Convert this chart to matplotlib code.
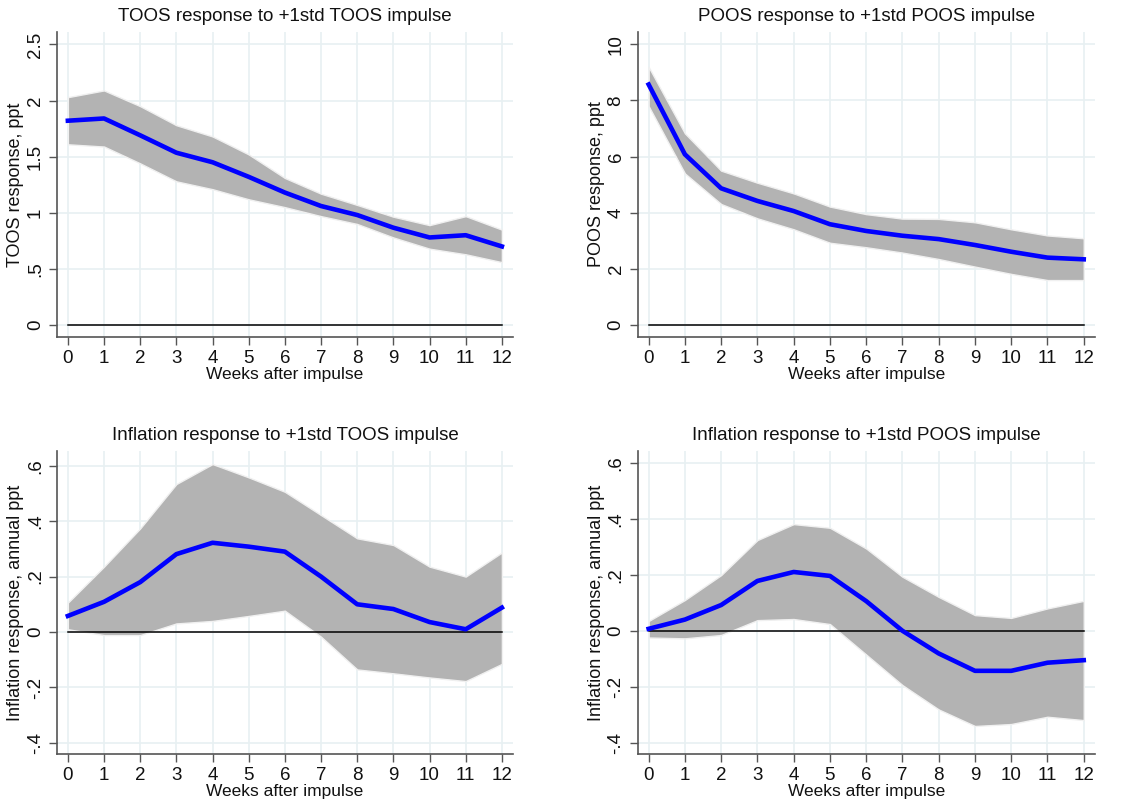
import matplotlib.pyplot as plt
import numpy as np

plt.rcParams['font.family'] = ['Liberation Sans', 'DejaVu Sans']

weeks = list(range(13))

# TOOS -> TOOS
toos_irf = [1.82, 1.84, 1.69, 1.535, 1.45, 1.32, 1.18, 1.06, 0.98, 0.867, 0.78, 0.80, 0.70]
toos_hi = [2.03, 2.09, 1.95, 1.78, 1.68, 1.52, 1.31, 1.17, 1.07, 0.965, 0.89, 0.97, 0.85]
toos_lo = [1.61, 1.59, 1.44, 1.28, 1.21, 1.12, 1.05, 0.97, 0.90, 0.78, 0.68, 0.63, 0.56]

# POOS -> POOS
poos_irf = [8.57, 6.08, 4.87, 4.42, 4.06, 3.59, 3.35, 3.18, 3.06, 2.85, 2.61, 2.40, 2.34]
poos_hi = [9.2, 6.83, 5.5, 5.07, 4.69, 4.22, 3.95, 3.79, 3.78, 3.66, 3.41, 3.19, 3.09]
poos_lo = [7.8, 5.4, 4.31, 3.80, 3.41, 2.93, 2.77, 2.58, 2.35, 2.08, 1.82, 1.60, 1.60]

# Inflation -> TOOS
inf_toos_irf = [0.058, 0.109, 0.18, 0.281, 0.322, 0.308, 0.29, 0.20, 0.10, 0.083, 0.036, 0.01, 0.088]
inf_toos_hi = [0.106, 0.236, 0.374, 0.534, 0.606, 0.558, 0.506, 0.422, 0.338, 0.314, 0.236, 0.20, 0.287]
inf_toos_lo = [0.01, -0.011, -0.011, 0.031, 0.040, 0.058, 0.077, -0.017, -0.135, -0.149, -0.164, -0.177, -0.115]

# Inflation -> POOS
inf_poos_irf = [0.007, 0.04, 0.092, 0.178, 0.21, 0.196, 0.106, 0.0, -0.081, -0.143, -0.143, -0.114, -0.105]
inf_poos_hi = [0.035, 0.11, 0.199, 0.324, 0.381, 0.368, 0.294, 0.193, 0.121, 0.056, 0.046, 0.08, 0.107]
inf_poos_lo = [-0.024, -0.027, -0.015, 0.038, 0.042, 0.024, -0.085, -0.194, -0.281, -0.340, -0.333, -0.307, -0.319]

panels = [
    ("TOOS response to +1std TOOS impulse", "TOOS response, ppt", toos_irf, toos_hi, toos_lo,
     [0, 0.5, 1, 1.5, 2, 2.5], ["0", ".5", "1", "1.5", "2", "2.5"], (-0.107, 2.61)),
    ("POOS response to +1std POOS impulse", "POOS response, ppt", poos_irf, poos_hi, poos_lo,
     [0, 2, 4, 6, 8, 10], ["0", "2", "4", "6", "8", "10"], (-0.43, 10.44)),
    ("Inflation response to +1std TOOS impulse", "Inflation response, annual ppt", inf_toos_irf, inf_toos_hi, inf_toos_lo,
     [-0.4, -0.2, 0, 0.2, 0.4, 0.6], ["-.4", "-.2", "0", ".2", ".4", ".6"], (-0.44, 0.653)),
    ("Inflation response to +1std POOS impulse", "Inflation response, annual ppt", inf_poos_irf, inf_poos_hi, inf_poos_lo,
     [-0.4, -0.2, 0, 0.2, 0.4, 0.6], ["-.4", "-.2", "0", ".2", ".4", ".6"], (-0.44, 0.642)),
]

positions = [
    [0.0498, 0.5834, 0.398, 0.377],
    [0.557, 0.5834, 0.399, 0.377],
    [0.0498, 0.068, 0.398, 0.3745],
    [0.557, 0.068, 0.399, 0.3745],
]

fig = plt.figure(figsize=[11.45, 8.09], dpi=100)

for pos, (title, ylab, irf, hi, lo, yt, ytl, ylim) in zip(positions, panels):
    ax = fig.add_axes(pos)
    ax.fill_between(weeks, lo, hi, color='#b3b3b3', edgecolor='#f0f0f0', linewidth=1, zorder=2)
    ax.plot(weeks, irf, color='#0000ff', linewidth=3.3, zorder=4)
    ax.plot([weeks[0], weeks[-1]], [0, 0], color='black', linewidth=1.1, zorder=3)

    ax.set_xlim(-0.3, 12.3)
    ax.set_ylim(*ylim)
    ax.set_xticks(weeks)
    ax.set_yticks(yt)
    ax.set_yticklabels(ytl, rotation=90, va='center')
    ax.tick_params(labelsize=13.5, length=6, width=1, direction='out',
                   colors='#555555', labelcolor='#111111')
    ax.grid(True, color='#e8f0f2', linewidth=1.2, zorder=0)
    ax.set_axisbelow(True)
    for s in ['top', 'right']:
        ax.spines[s].set_visible(False)
    for s in ['left', 'bottom']:
        ax.spines[s].set_color('#555555')
        ax.spines[s].set_linewidth(1.2)

    ax.set_title(title, fontsize=13.5, color='#111111', pad=8)
    ax.set_xlabel("Weeks after impulse", fontsize=12.5, color='#111111', labelpad=0)
    ax.set_ylabel(ylab, fontsize=13, color='#111111', labelpad=2)

plt.savefig('out.png', dpi=100)
